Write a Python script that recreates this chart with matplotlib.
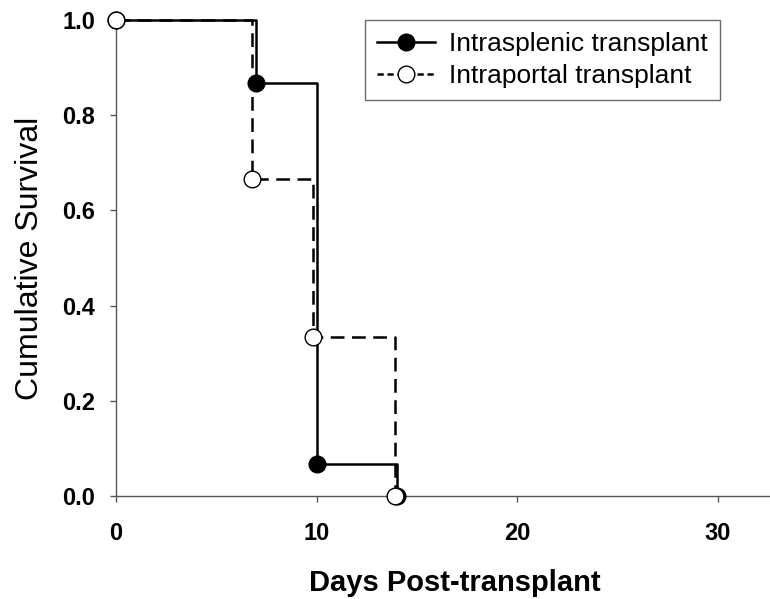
import matplotlib
matplotlib.use("Agg")
import matplotlib.pyplot as plt

# Data
splenic_days = [0, 7, 10, 14]
splenic_surv = [1.0, 0.867, 0.067, 0.0]
portal_days = [0, 6.8, 9.8, 13.9]
portal_surv = [1.0, 0.667, 0.333, 0.0]
labels = ["Intrasplenic transplant", "Intraportal transplant"]
xticks = [0, 10, 20, 30]
yticks = [0.0, 0.2, 0.4, 0.6, 0.8, 1.0]

plt.rcParams['font.family'] = ['Liberation Sans', 'DejaVu Sans']

W, H = 770, 599
fig = plt.figure(figsize=(W / 100, H / 100), dpi=100)
left, right, bottom, top = 116, 794, 496, 20
ax = fig.add_axes([left / W, 1 - bottom / H, (right - left) / W, (bottom - top) / H])

lw = 1.8
ax.step(splenic_days, splenic_surv, where='post', color='black', lw=lw,
        zorder=3, clip_on=False)
ax.plot(splenic_days, splenic_surv, 'o', color='black', ms=12, mec='black',
        zorder=4, clip_on=False)
ax.step(portal_days, portal_surv, where='post', color='black', lw=lw,
        linestyle=(0, (5.5, 3)), zorder=5, clip_on=False)
ax.plot(portal_days, portal_surv, 'o', mfc='white', mec='black', mew=1.0,
        ms=12, zorder=6, clip_on=False)

# legend proxies
h1, = ax.plot([], [], '-o', color='black', lw=lw, ms=12)
h2, = ax.plot([], [], 'o', color='black', lw=lw, ms=12, mfc='white', mew=1.0,
              linestyle=(0, (2.5, 1.5)))
leg = ax.legend([h1, h2], labels, loc='upper left',
                bbox_to_anchor=(365 / W, 1 - 20 / H), bbox_transform=fig.transFigure,
                fontsize=19, frameon=True, fancybox=False, handlelength=2.2,
                handletextpad=0.55, borderpad=0.45, labelspacing=0.3,
                borderaxespad=0)
leg.get_frame().set_edgecolor('#444444')
leg.get_frame().set_linewidth(1.0)

ax.set_xlim(0, (right - left) / 20.07)
ax.set_ylim(0, 1.0)
ax.set_xticks(xticks)
ax.set_yticks(yticks)
ax.set_xticklabels([str(t) for t in xticks], fontweight='bold', fontsize=17)
ax.set_yticklabels([f"{t:.1f}" for t in yticks], fontweight='bold', fontsize=17)
ax.tick_params(axis='both', direction='out', length=4, width=1, color='#555555')
ax.tick_params(axis='x', pad=15)
ax.tick_params(axis='y', pad=11)

for s in ['top', 'right']:
    ax.spines[s].set_visible(False)
for s in ['left', 'bottom']:
    ax.spines[s].set_color('#555555')
    ax.spines[s].set_linewidth(1.0)

ax.set_xlabel("Days Post-transplant", fontsize=21, fontweight='bold', labelpad=17)
ax.set_ylabel("Cumulative Survival", fontsize=23, labelpad=12)

fig.savefig("out.png", dpi=100)
